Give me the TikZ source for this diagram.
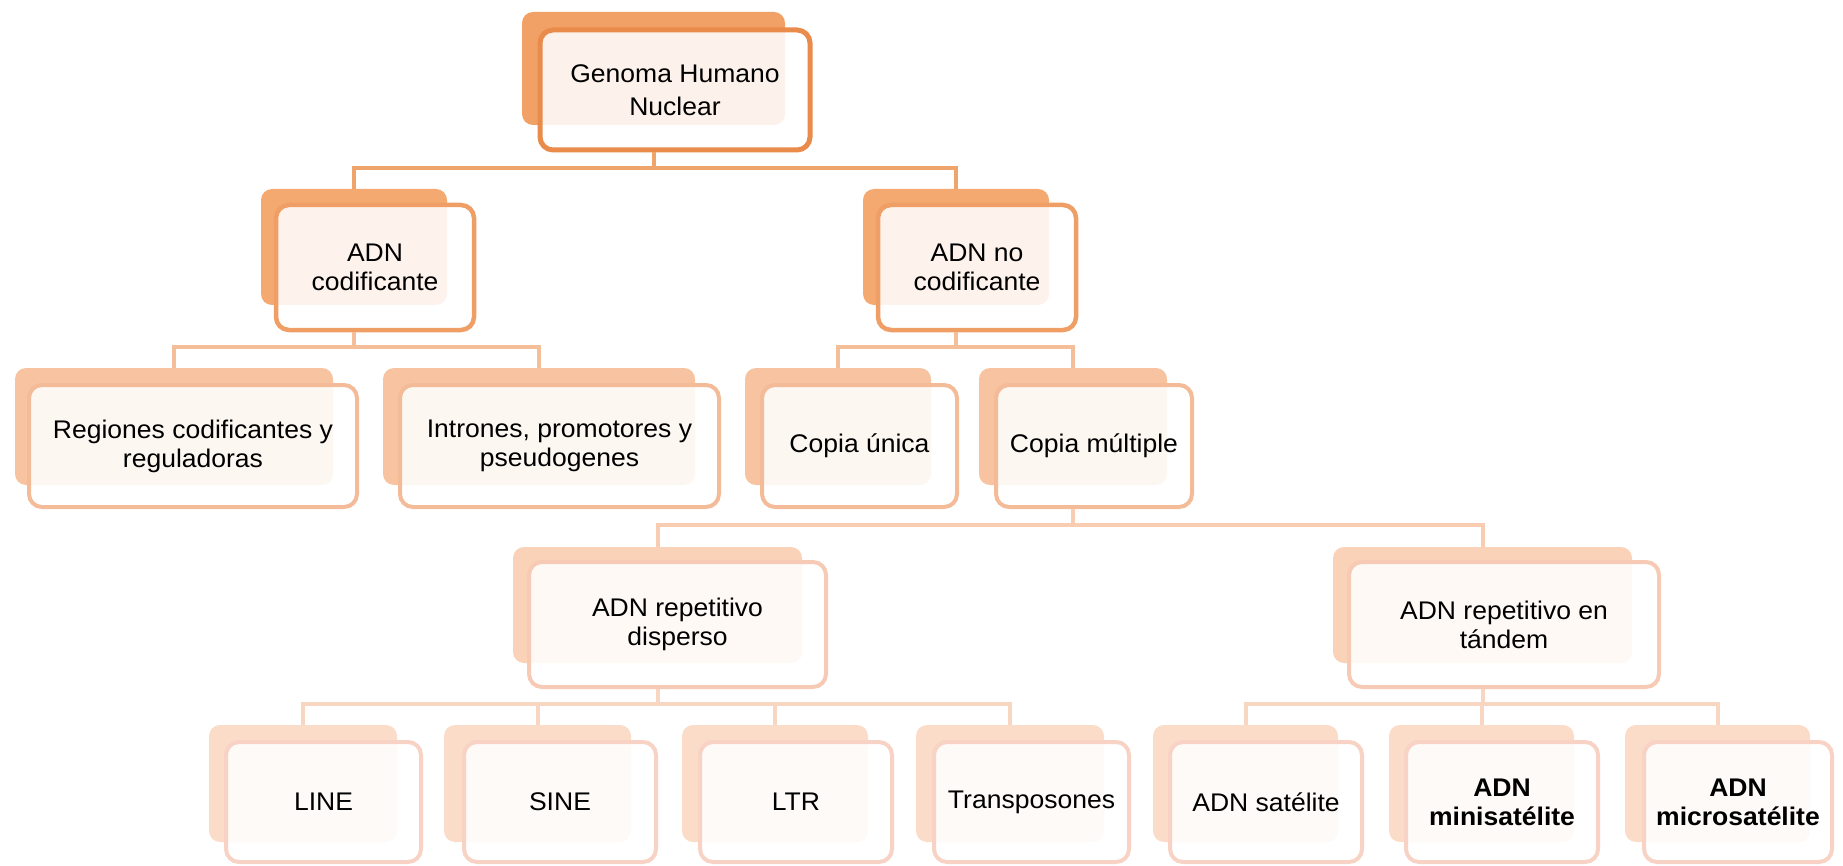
\documentclass[tikz,border=0pt]{standalone}
\usepackage{fontspec}
\setmainfont{Liberation Sans}[FakeStretch=1.04]
\definecolor{b1}{HTML}{F2A166}\definecolor{e1}{HTML}{E98C4B}
\definecolor{b2}{HTML}{F4A970}\definecolor{e2}{HTML}{EF9F66}
\definecolor{b3}{HTML}{F7C3A0}\definecolor{e3}{HTML}{F3BB98}
\definecolor{b4}{HTML}{F9D2B8}\definecolor{e4}{HTML}{F6CAB4}
\definecolor{b5}{HTML}{FADCC8}\definecolor{e5}{HTML}{F8D3C5}
\definecolor{k1}{HTML}{EFA46C}\definecolor{k2}{HTML}{F4BE98}
\definecolor{k3}{HTML}{F8CDB2}\definecolor{k4}{HTML}{F9D6C2}
\newcommand\bx[7]{\node[#2, minimum width={#5-#3}, minimum height={#6-#4}] (#1) at ({(#3+#5)/2},{(#4+#6)/2}) {#7};}
\begin{document}
\begin{tikzpicture}[x=1pt,y=-1pt,
  txt/.style={font=\fontsize{25.5}{29}\selectfont, align=center, text=black},
  bold/.style={font=\fontsize{25.5}{29}\selectfont\bfseries},
  backbox/.style={draw=none, rounded corners=11pt, inner sep=0pt},
  frontbox/.style={rounded corners=13pt, fill=white, fill opacity=0.87, text opacity=1, inner sep=0pt, txt},
  back1/.style={backbox, fill=b1}, front1/.style={frontbox, draw=e1, line width=5pt, font=\fontsize{25.5}{33}\selectfont},
  back2/.style={backbox, fill=b2}, front2/.style={frontbox, draw=e2, line width=4.5pt},
  back3/.style={backbox, fill=b3}, front3/.style={frontbox, draw=e3, line width=4pt},
  back4/.style={backbox, fill=b4}, front4/.style={frontbox, draw=e4, line width=4pt},
  back5/.style={backbox, fill=b5}, front5/.style={frontbox, draw=e5, line width=4pt},
  conn1/.style={draw=k1, line width=4pt},
  conn2/.style={draw=k2, line width=4pt},
  conn3/.style={draw=k3, line width=4pt},
  conn4/.style={draw=k4, line width=4pt}]
\useasboundingbox (0,0) rectangle (1843,866);
\clip (0,0) rectangle (1843,866);
% level 1
\bx{topb}{back1}{522}{12}{785}{125}{}
\bx{top}{front1}{540}{30}{810}{150}{Genoma Humano\\Nuclear}
% level 2
\bx{codb}{back2}{261}{189}{447}{305}{}
\bx{cod}{front2}{276}{205}{474}{330}{ADN\\codificante}
\bx{nocodb}{back2}{863}{189}{1049}{305}{}
\bx{nocod}{front2}{878}{205}{1076}{330}{ADN no\\codificante}
% level 3
\bx{regb}{back3}{15}{368}{333}{485}{}
\bx{reg}{front3}{29}{385}{357}{507}{Regiones codificantes y\\reguladoras}
\bx{intrb}{back3}{383}{368}{695}{485}{}
\bx{intr}{front3}{400}{385}{719}{507}{Intrones, promotores y\\pseudogenes}
\bx{unib}{back3}{745}{368}{931}{485}{}
\bx{uni}{front3}{762}{385}{957}{507}{Copia única}
\bx{multb}{back3}{979}{368}{1167}{485}{}
\bx{mult}{front3}{996}{385}{1192}{507}{Copia múltiple}
% level 4
\bx{dispb}{back4}{513}{547}{802}{663}{}
\bx{disp}{front4}{529}{562}{826}{687}{ADN repetitivo\\disperso}
\bx{tandb}{back4}{1333}{547}{1632}{663}{}
\bx{tand}{front4}{1349}{562}{1659}{687}{ADN repetitivo en\\tándem}
% level 5
\bx{lineb}{back5}{209}{725}{397}{842}{}
\bx{line}{front5}{226}{742}{421}{862}{LINE}
\bx{sineb}{back5}{444}{725}{631}{842}{}
\bx{sine}{front5}{464}{742}{656}{862}{SINE}
\bx{ltrb}{back5}{682}{725}{868}{842}{}
\bx{ltr}{front5}{700}{742}{892}{862}{LTR}
\bx{trb}{back5}{916}{725}{1104}{842}{}
\bx{tr}{front5}{934}{742}{1129}{862}{Transposones}
\bx{satb}{back5}{1153}{725}{1338}{842}{}
\bx{sat}{front5}{1170}{742}{1362}{862}{ADN satélite}
\bx{minib}{back5}{1389}{725}{1574}{842}{}
\bx{mini}{front5,bold}{1406}{742}{1598}{862}{ADN\\minisatélite}
\bx{microb}{back5}{1625}{725}{1810}{842}{}
\bx{micro}{front5,bold}{1644}{742}{1832}{862}{ADN\\microsatélite}
% bus levels
\coordinate (bus1) at (0,168);
\coordinate (bus2) at (0,347);
\coordinate (bus3) at (0,525);
\coordinate (bus4) at (0,704);
% connectors
\foreach \c in {codb,nocodb}
  \draw[conn1] (topb.center |- top.south) -- (topb.center |- bus1) -| (\c.north);
\foreach \c in {regb,intrb}
  \draw[conn2] (codb.center |- cod.south) -- (codb.center |- bus2) -| (\c.north);
\foreach \c in {unib,multb}
  \draw[conn2] (nocodb.center |- nocod.south) -- (nocodb.center |- bus2) -| (\c.north);
\foreach \c in {dispb,tandb}
  \draw[conn3] (multb.center |- mult.south) -- (multb.center |- bus3) -| (\c.north);
\foreach \c in {lineb,sineb,ltrb,trb}
  \draw[conn4] (dispb.center |- disp.south) -- (dispb.center |- bus4) -| (\c.north);
\foreach \c in {satb,minib,microb}
  \draw[conn4] (tandb.center |- tand.south) -- (tandb.center |- bus4) -| (\c.north);
\end{tikzpicture}
\end{document}
